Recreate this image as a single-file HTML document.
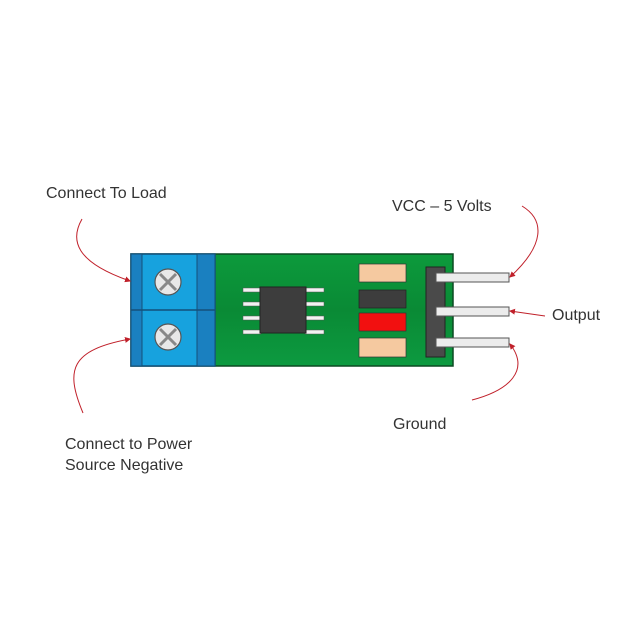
<!DOCTYPE html>
<html><head><style>
body{margin:0;width:623px;height:622px;background:#fff;overflow:hidden;position:relative;font-family:"Liberation Sans","DejaVu Sans",sans-serif;}
.t{position:absolute;font-size:16px;color:#333;line-height:21px;white-space:nowrap}
svg{position:absolute;left:0;top:0}
</style></head><body>
<svg width="623" height="622" viewBox="0 0 623 622">
<defs>
<linearGradient id="g" x1="0" y1="0" x2="0" y2="1"><stop offset="0" stop-color="#0c9a3c"/><stop offset="0.5" stop-color="#0a8a35"/><stop offset="1" stop-color="#0c9a40"/></linearGradient>
<marker id="a" markerWidth="6" markerHeight="6" refX="5" refY="3" orient="auto"><path d="M0,0 L6,3 L0,6 z" fill="#c0202a"/></marker>
</defs>
<rect x="131" y="254" width="322" height="112" fill="url(#g)" stroke="#0b4a22" stroke-width="1.5"/>
<rect x="131" y="254" width="84" height="112" fill="#17a2de" stroke="#14507a" stroke-width="1.5"/>
<rect x="131" y="254" width="11" height="112" fill="#1a80c0" stroke="#14507a"/>
<rect x="197" y="254" width="18" height="112" fill="#1a80c0" stroke="#14507a"/>
<line x1="131" y1="310" x2="215" y2="310" stroke="#14507a" stroke-width="1.5"/>
<g stroke="#555" stroke-width="1.2">
<circle cx="168" cy="282" r="13" fill="#e8e8e8"/>
<circle cx="168" cy="337" r="13" fill="#e8e8e8"/>
</g>
<g stroke="#888" stroke-width="3">
<line x1="160" y1="274" x2="176" y2="290"/><line x1="176" y1="274" x2="160" y2="290"/>
<line x1="160" y1="329" x2="176" y2="345"/><line x1="176" y1="329" x2="160" y2="345"/>
</g>
<g fill="#f2f2f2" stroke="#555" stroke-width="0.5">
<rect x="243" y="288" width="18" height="4"/><rect x="243" y="302" width="18" height="4"/><rect x="243" y="316" width="18" height="4"/><rect x="243" y="330" width="18" height="4"/>
<rect x="305" y="288" width="19" height="4"/><rect x="305" y="302" width="19" height="4"/><rect x="305" y="316" width="19" height="4"/><rect x="305" y="330" width="19" height="4"/>
</g>
<rect x="260" y="287" width="46" height="46" fill="#3d3d3d" stroke="#222"/>
<rect x="359" y="264" width="47" height="18" fill="#f5c9a0" stroke="#333" stroke-width="0.7"/>
<rect x="359" y="290" width="47" height="18" fill="#3d3d3d" stroke="#222" stroke-width="0.7"/>
<rect x="359" y="313" width="47" height="18" fill="#f21010" stroke="#333" stroke-width="0.7"/>
<rect x="359" y="338" width="47" height="19" fill="#f5c9a0" stroke="#333" stroke-width="0.7"/>
<rect x="426" y="267" width="19" height="90" fill="#4a4a4a" stroke="#222"/>
<g fill="#ececec" stroke="#555" stroke-width="1">
<rect x="436" y="273" width="73" height="9"/><rect x="436" y="307" width="73" height="9"/><rect x="436" y="338" width="73" height="9"/>
</g>
<g fill="none" stroke="#c0202a" stroke-width="1" marker-end="url(#a)">
<path d="M82,219 C70,240 75,262 130,281"/>
<path d="M83,413 C65,370 70,350 130,339"/>
<path d="M522,206 C545,220 545,245 510,277"/>
<path d="M545,316 L510,311"/>
<path d="M472,400 C510,390 530,370 510,344"/>
</g>
</svg>
<div class="t" style="left:46px;top:183px">Connect To Load</div>
<div class="t" style="left:392px;top:196px">VCC – 5 Volts</div>
<div class="t" style="left:552px;top:305px">Output</div>
<div class="t" style="left:393px;top:414px">Ground</div>
<div class="t" style="left:65px;top:434px">Connect to Power<br>Source Negative</div>
</body></html>
